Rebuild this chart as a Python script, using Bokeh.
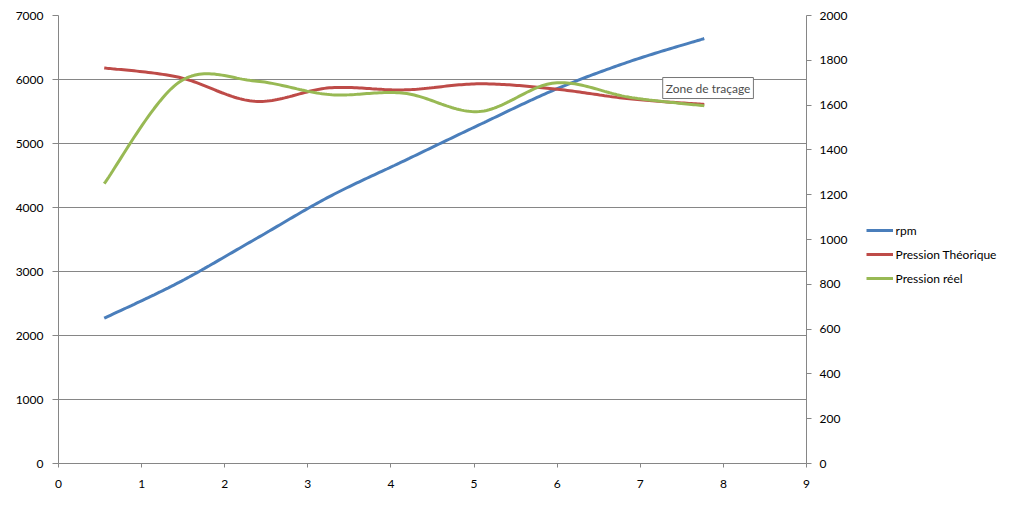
import numpy as np
from bokeh.plotting import figure
from bokeh.models import (Range1d, LinearAxis, FixedTicker, Legend, LegendItem, Label)
from bokeh.embed import file_html
from bokeh.resources import INLINE

# ---- data ----
x_vals = [0.55, 1.45, 2.36, 3.26, 4.16, 5.06, 5.97, 6.87, 7.77]
rpm = [2270, 2830, 3500, 4170, 4730, 5290, 5840, 6280, 6640]
pression_theorique = [1766, 1724, 1617, 1677, 1668, 1695, 1672, 1628, 1603]
pression_reel = [1249, 1702, 1708, 1647, 1653, 1571, 1699, 1635, 1597]

series_names = ["rpm", "Pression Théorique", "Pression réel"]
x_ticks = list(range(0, 10))
left_ticks = list(range(0, 7001, 1000))
right_ticks = list(range(0, 2001, 200))

BLUE = "#4A7EBB"
RED = "#BE4B48"
GREEN = "#98B954"
GRID = "#868686"
FONT = "Lato"


def smooth(xs, ys, n=30):
    """Excel-like smoothed line: cubic Bezier through the points."""
    xs = np.asarray(xs, float)
    ys = np.asarray(ys, float)
    P = np.column_stack([xs, ys])
    m = len(P)
    out = []
    for i in range(m - 1):
        p0 = P[max(i - 1, 0)]
        p1 = P[i]
        p2 = P[i + 1]
        p3 = P[min(i + 2, m - 1)]
        c1 = p1 + (p2 - p0) / 6.0
        c2 = p2 - (p3 - p1) / 6.0
        t = np.linspace(0, 1, n, endpoint=(i == m - 2))[:, None]
        b = ((1 - t) ** 3) * p1 + 3 * ((1 - t) ** 2) * t * c1 + 3 * (1 - t) * t ** 2 * c2 + t ** 3 * p2
        out.append(b)
    out = np.vstack(out)
    return out[:, 0], out[:, 1]


p = figure(
    frame_width=748, frame_height=448,
    min_border_left=58, min_border_right=0, min_border_top=15, min_border_bottom=39,
    x_range=Range1d(0, 9), y_range=Range1d(0, 7000),
    output_backend="svg", toolbar_location=None,
    background_fill_color="white", border_fill_color="white",
)
p.outline_line_color = None
p.extra_y_ranges = {"right": Range1d(0, 2000)}

# grid
p.xgrid.visible = False
p.ygrid.grid_line_color = GRID
p.ygrid.grid_line_width = 1
p.ygrid.ticker = FixedTicker(ticks=left_ticks)


def style_axis(ax, tick_out, standoff):
    ax.axis_line_color = GRID
    ax.major_tick_line_color = GRID
    ax.major_tick_out = tick_out
    ax.major_tick_in = 0
    ax.minor_tick_line_color = None
    ax.major_label_text_font = FONT
    ax.major_label_text_font_size = "12px"
    ax.major_label_text_color = "#000000"
    ax.major_label_standoff = standoff


p.xaxis.ticker = FixedTicker(ticks=x_ticks)
style_axis(p.xaxis[0], 4, 12)
p.yaxis.ticker = FixedTicker(ticks=left_ticks)
style_axis(p.yaxis[0], 6, 9)

right_axis = LinearAxis(y_range_name="right", ticker=FixedTicker(ticks=right_ticks))
style_axis(right_axis, 5, 8)
p.add_layout(right_axis, "right")

# lines
bx, by = smooth(x_vals, rpm)
rx, ry = smooth(x_vals, pression_theorique)
gx, gy = smooth(x_vals, pression_reel)

r_rpm = p.line(bx, by, line_color=BLUE, line_width=3)
r_th = p.line(rx, ry, line_color=RED, line_width=3, y_range_name="right")
r_re = p.line(gx, gy, line_color=GREEN, line_width=3, y_range_name="right")

legend = Legend(
    items=[LegendItem(label=series_names[0], renderers=[r_rpm]),
           LegendItem(label=series_names[1], renderers=[r_th]),
           LegendItem(label=series_names[2], renderers=[r_re])],
    location=(-221, 175),
    glyph_width=27, glyph_height=20, label_height=20, spacing=4,
    label_standoff=3, padding=0, margin=0,
    border_line_color=None, background_fill_alpha=0,
    label_text_font=FONT, label_text_font_size="12px", label_text_color="#000000",
)
p.add_layout(legend, "right")

# hover tooltip seen in the reference
tip = Label(
    x=7.27, y=6031, text="Zone de traçage",
    text_font=FONT, text_font_size="12px", text_color="#4c4c4c",
    text_align="left", text_baseline="top",
    background_fill_color="white", border_line_color="#767676",
    padding=3,
)
p.add_layout(tip)

open("out.html", "w").write(file_html(p, INLINE))
